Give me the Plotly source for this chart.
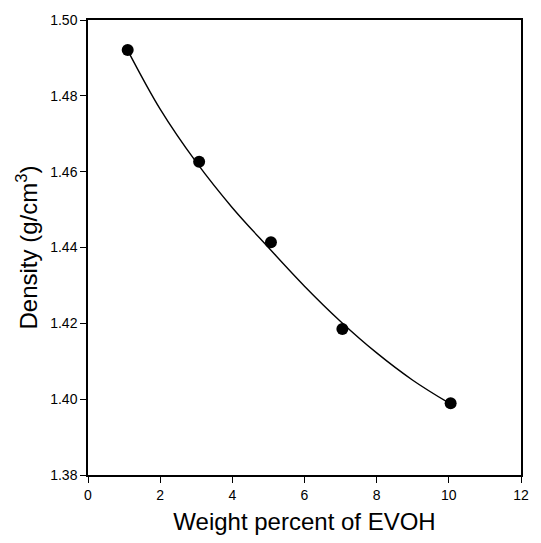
import plotly.graph_objects as go

# measured points
wt_pct = [1.1, 3.08, 5.07, 7.05, 10.05]
density = [1.4921, 1.4626, 1.4414, 1.4185, 1.3989]

# fitted curve
fit_x = [1.1, 2, 3, 4, 5, 6, 7, 8, 9, 10]
fit_y = [1.4920, 1.4765, 1.4625, 1.4505, 1.4400, 1.4298, 1.4205, 1.4122, 1.4050, 1.3990]

x_ticks = [0, 2, 4, 6, 8, 10, 12]
y_ticks = [1.38, 1.40, 1.42, 1.44, 1.46, 1.48, 1.50]

fig = go.Figure()
fig.add_trace(go.Scatter(x=fit_x, y=fit_y, mode="lines",
                         line=dict(color="black", width=1.4, shape="spline"),
                         showlegend=False, hoverinfo="skip"))
fig.add_trace(go.Scatter(x=wt_pct, y=density, mode="markers",
                         marker=dict(color="black", size=12),
                         showlegend=False))

fig.update_layout(
    width=541, height=543,
    margin=dict(l=88, r=18, t=16, b=63),
    paper_bgcolor="white", plot_bgcolor="white",
    font=dict(family="Liberation Sans, Arial, sans-serif", color="black"),
)
fig.update_xaxes(
    range=[0, 12], tickvals=x_ticks, ticktext=[str(v) for v in x_ticks],
    ticks="outside", ticklen=6, tickwidth=1.2, tickcolor="black",
    showline=True, linecolor="black", linewidth=1.5, mirror=True,
    showgrid=False, zeroline=False,
    tickfont=dict(size=14),
    title=dict(text="Weight percent of EVOH", font=dict(size=24), standoff=12),
)
fig.update_yaxes(
    range=[1.38, 1.50], tickvals=y_ticks, ticktext=[f"{v:.2f}" for v in y_ticks],
    ticks="outside", ticklen=6, tickwidth=1.2, tickcolor="black",
    showline=True, linecolor="black", linewidth=1.5, mirror=True,
    showgrid=False, zeroline=False,
    tickfont=dict(size=14),
    title=dict(text="Density (g/cm<sup>3</sup>)", font=dict(size=24), standoff=6),
)

fig.write_html("out.html")
